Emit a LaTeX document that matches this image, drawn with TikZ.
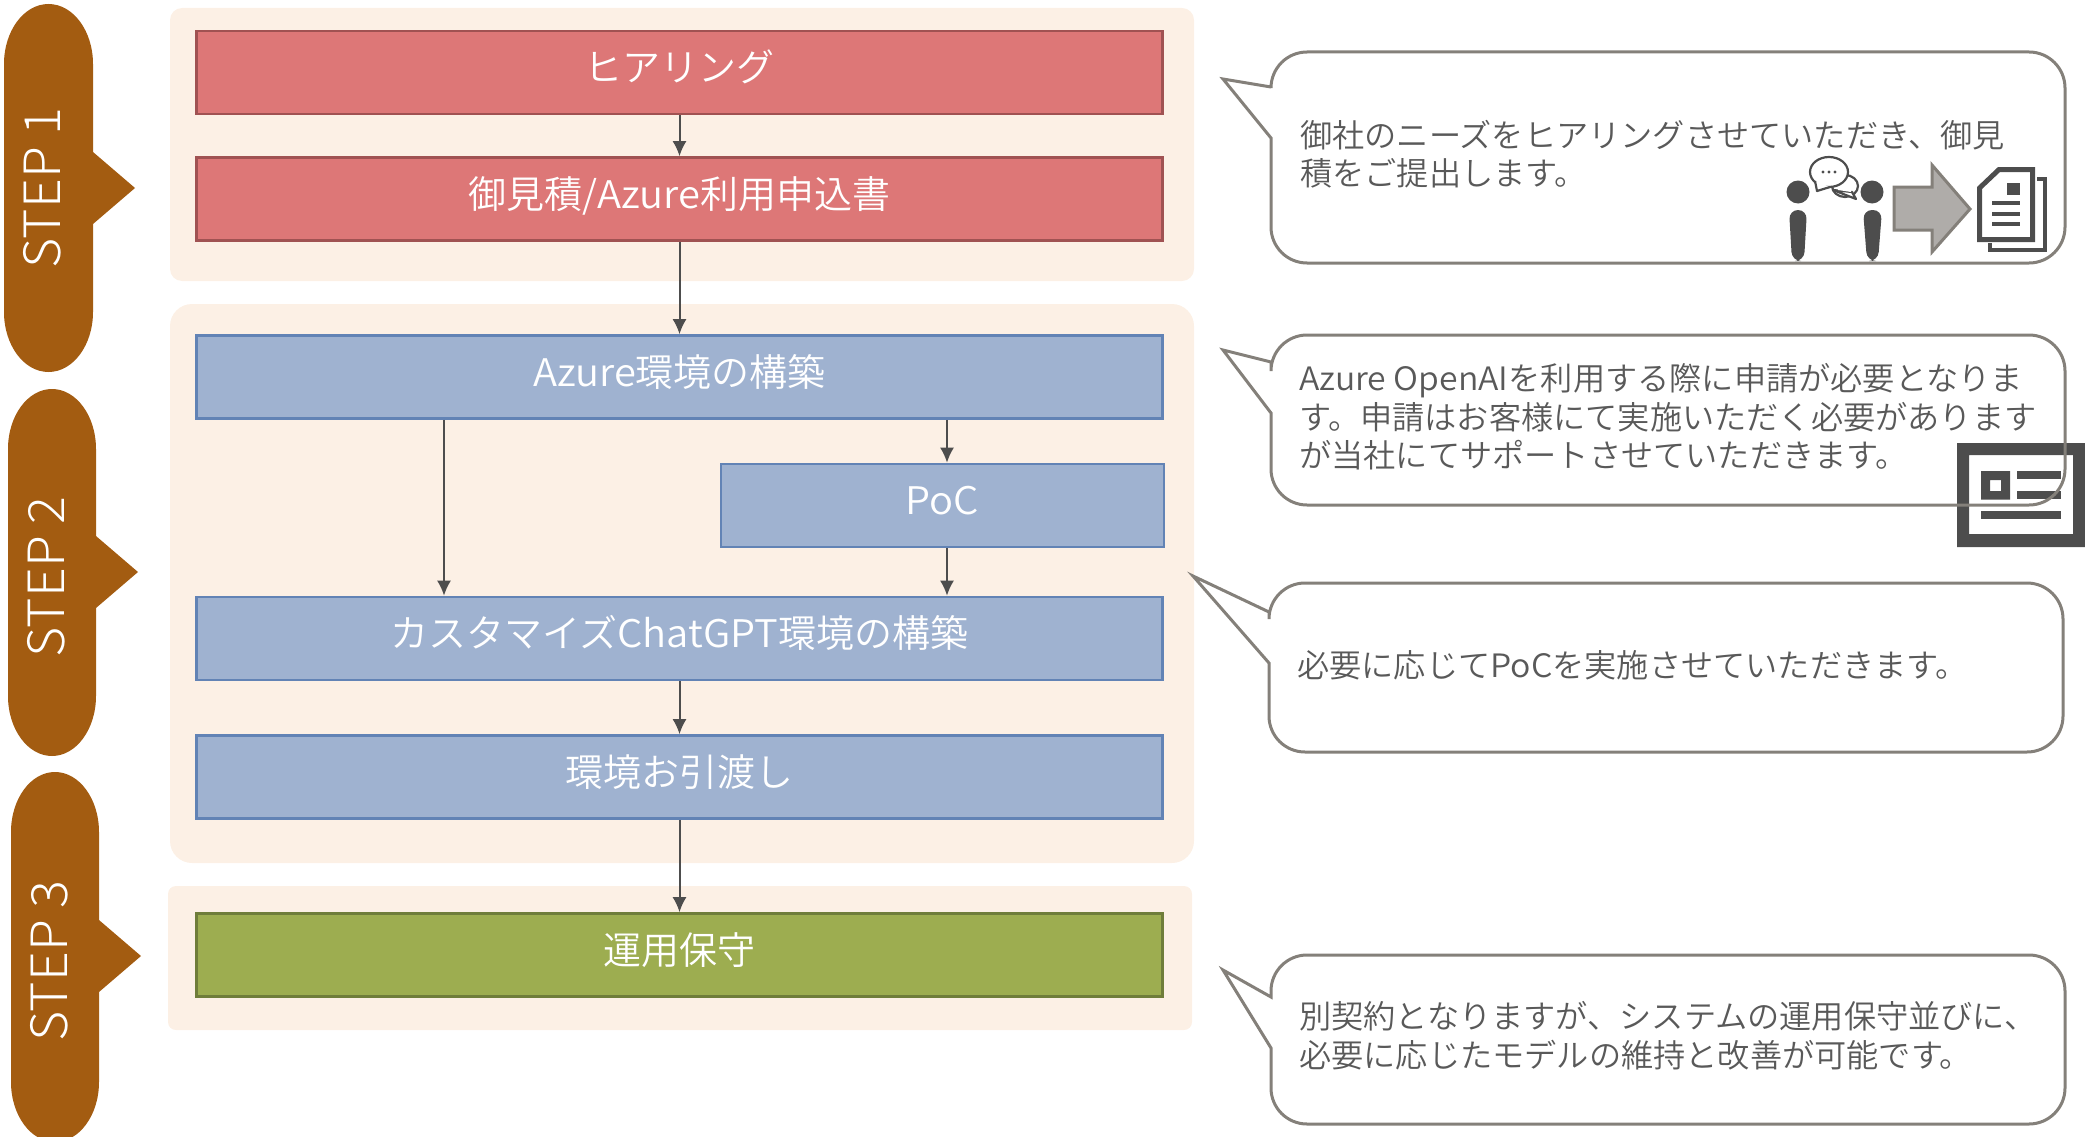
\documentclass[tikz,border=0pt]{standalone}
\usepackage{fontspec}
\setmainfont{Noto Sans CJK JP DemiLight}
\newfontfamily\stepf[FakeStretch=1.04]{Noto Sans CJK JP Light}
\newfontfamily\latf[FakeStretch=1.05]{Noto Sans CJK JP DemiLight}
\newcommand{\lat}[1]{{\latf #1}}
\usetikzlibrary{arrows.meta}
\definecolor{panelc}{HTML}{FCF0E5}
\definecolor{pillc}{HTML}{A35C11}
\definecolor{redf}{HTML}{DD7777}
\definecolor{redd}{HTML}{A05252}
\definecolor{bluef}{HTML}{9FB2D0}
\definecolor{blued}{HTML}{6283B5}
\definecolor{greenf}{HTML}{9DAD50}
\definecolor{greend}{HTML}{6F7D3A}
\definecolor{calld}{HTML}{84807A}
\definecolor{textc}{HTML}{595959}
\definecolor{iconc}{HTML}{4D4D4D}
\tikzset{
  x=1pt,y=-1pt,
  panel/.style={fill=panelc,draw=none,rounded corners=#1},
  pill/.style={fill=pillc,draw=none},
  stepbox/.style={draw,line width=2.6pt,text=white,inner sep=0pt,text height=26pt,text depth=8pt,font=\fontsize{38}{40}\selectfont,minimum height=83pt},
  redbox/.style={stepbox,fill=redf,draw=redd,minimum width=966pt},
  bluebox/.style={stepbox,fill=bluef,draw=blued,minimum width=966pt},
  greenbox/.style={stepbox,fill=greenf,draw=greend,minimum width=966pt},
  conn/.style={draw=iconc,line width=2pt,-{Latex[length=15pt,width=14pt]}},
  steplabel/.style={rotate=90,text=white,font=\stepf\fontsize{50}{52}\selectfont},
  callout/.style={draw=calld,line width=3pt,line join=miter},
  calltext/.style={anchor=west,align=left,text=textc,inner sep=0pt,font=\fontsize{32.2}{38.6}\selectfont},
  icon/.style={fill=iconc,draw=none},
  minibubble/.style={draw=iconc,line width=2.2pt,fill=white,line join=round},
}
\newcommand{\pillshape}[5]{% x0 x1 y0 y1 tipy
  \path[pill] (#1,#3+60) arc[start angle=180,end angle=360,x radius=(#2-#1)/2,y radius=60]
   -- (#2,#5-36) -- (#2+42,#5) -- (#2,#5+36) -- (#2,#4-60)
   arc[start angle=0,end angle=180,x radius=(#2-#1)/2,y radius=60] -- cycle;}
\newcommand{\bubble}[7]{% x0 x1 y0 y1 tipx tipy j1
  \path[callout] (#1,#7) -- (#5,#6) -- (#1,#7+51)
   -- (#1,#4-36) arc[start angle=180,end angle=90,radius=36]
   -- (#2-36,#4) arc[start angle=90,end angle=0,radius=36]
   -- (#2,#3+36) arc[start angle=0,end angle=-90,radius=36]
   -- (#1+36,#3) arc[start angle=-90,end angle=-180,radius=36] -- cycle;}
\begin{document}
\begin{tikzpicture}
\useasboundingbox (0,0) rectangle (2085,1137);
% panels
\path[panel=12pt] (170,8) rectangle (1194,281);
\path[panel=22pt] (170,304) rectangle (1194,863);
\path[panel=8pt] (168,886) rectangle (1192,1030);
% pills
\pillshape{4}{93}{4}{372}{188}
\pillshape{8}{96}{389}{756}{572}
\pillshape{11}{99}{772}{1142}{956}
\node[steplabel] (s1) at (42,188) {STEP 1};
\node[steplabel] (s2) at (46,577) {STEP 2};
\node[steplabel] (s3) at (49,961) {STEP 3};
% boxes
\node[redbox] (hear) at (679.5,72.5) {ヒアリング};
\node[redbox] (quote) at (679.5,199) {御見積/\lat{Azure}利用申込書};
\node[bluebox] (azure) at (679.5,377) {\lat{Azure}環境の構築};
\node[bluebox,minimum width=443pt] (poc) at (942.5,505.5) {\lat{PoC}};
\node[bluebox] (custom) at (679.5,638.5) {カスタマイズ\lat{ChatGPT}環境の構築};
\node[bluebox] (hand) at (679.5,777) {環境お引渡し};
\node[greenbox] (ops) at (679.5,955) {運用保守};
% connectors
\draw[conn] (hear) -- (quote);
\draw[conn] (quote) -- (azure);
\draw[conn] (azure.south -| 444,0) -- (custom.north -| 444,0);
\draw[conn] (azure.south -| 947,0) -- (poc.north -| 947,0);
\draw[conn] (poc.south -| 947,0) -- (custom.north -| 947,0);
\draw[conn] (custom) -- (hand);
\draw[conn] (hand) -- (ops);
% news icon
\path[icon,even odd rule] (1957,443) rectangle (2085,547) (1969,455) rectangle (2073,534);
\path[icon,even odd rule] (1981,471) rectangle (2010,499.5) (1990,480) rectangle (2001,491);
\path[icon] (2017,471) rectangle (2061,479);
\path[icon] (2017,491) rectangle (2061,499);
\path[icon] (1981,511) rectangle (2061,519);
% callouts
\bubble{1271}{2065}{52}{263}{1223}{79}{87}
\bubble{1271}{2065}{335}{505}{1223}{350}{362}
\bubble{1269}{2063}{583}{752}{1193}{576}{612}
\bubble{1271}{2065}{955}{1124}{1223}{970}{997}
\node[calltext] (t1) at (1300,154) {御社のニーズをヒアリングさせていただき、御見\\積をご提出します。};
\node[calltext] (t2) at (1299,417) {\lat{Azure OpenAI}を利用する際に申請が必要となりま\\す。申請はお客様にて実施いただく必要があります\\が当社にてサポートさせていただきます。};
\node[calltext] (t3) at (1297,665) {必要に応じて\lat{PoC}を実施させていただきます。};
\node[calltext] (t4) at (1299,1036) {別契約となりますが、システムの運用保守並びに、\\必要に応じたモデルの維持と改善が可能です。};
% people icon
\path[icon] (1798,192) circle[radius=11.5];
\path[icon] (1872,192) circle[radius=11.5];
\path[icon,rounded corners=9pt] (1789,210) -- (1807,210) -- (1804,261) -- (1792,261) -- cycle;
\path[icon,rounded corners=9pt] (1863,210) -- (1882,210) -- (1878,261) -- (1867,261) -- cycle;
\path[minibubble] (1845,186) ellipse[x radius=13,y radius=11];
\path[minibubble] (1833,190) -- (1856,199) -- (1852,192) -- cycle;
\path[fill=white] (1838,186) -- (1852,186) -- (1851,192) -- (1838,190) -- cycle;
\path[minibubble] (1829,172) ellipse[x radius=19,y radius=15];
\path[minibubble] (1815,181) -- (1817,191) -- (1830,187);
\path[fill=white] (1817,180) -- (1819,187) -- (1830,184) -- (1830,178) -- cycle;
\foreach \d in {-6,0,6} \path[icon] (1829+\d,172) circle[radius=1.6];
% arrow icon
\path[fill=calld!65,draw=calld,line width=3pt,line join=miter]
  (1894,187) -- (1932,187) -- (1932,165) -- (1970,209) -- (1932,252) -- (1932,230) -- (1894,230) -- cycle;
% document icon
\draw[iconc,line width=3.5pt] (2037,179) -- (2045,179) -- (2045,250) -- (1990,250) -- (1990,243);
\path[icon,even odd rule] (1998,167) -- (2035,167) -- (2035,242) -- (1977,242) -- (1977,187) -- cycle
  (2000,172) -- (2030,172) -- (2030,237) -- (1982,237) -- (1982,189) -- cycle;
\path[icon] (2007,183) rectangle (2020,195);
\path[icon] (1992,201) rectangle (2020,205);
\path[icon] (1992,212) rectangle (2020,216);
\path[icon] (1992,222) rectangle (2020,226);
\end{tikzpicture}
\end{document}
